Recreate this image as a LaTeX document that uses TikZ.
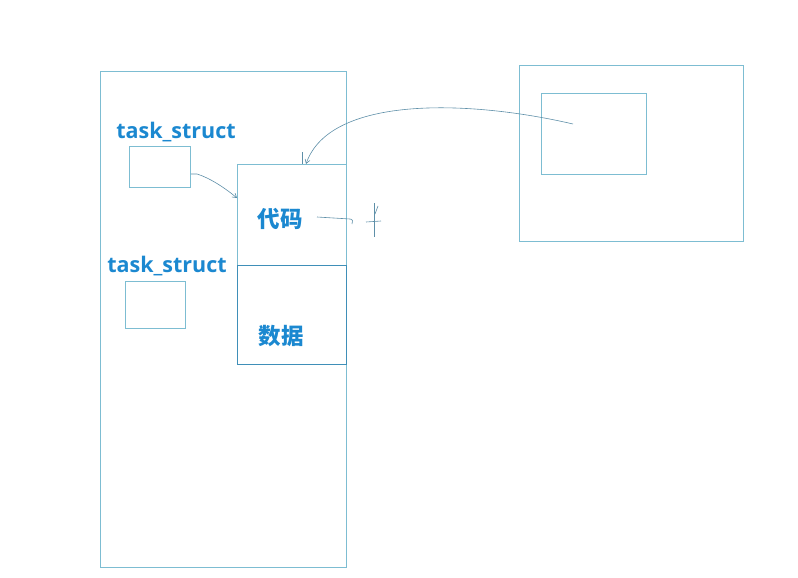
\documentclass[tikz,border=0pt]{standalone}
\usepackage{fontspec}
\setmainfont{Open Sans}
\newfontfamily\cjk{Noto Sans CJK SC}
\usetikzlibrary{arrows.meta}
\definecolor{boxc}{HTML}{7DBDD2}
\definecolor{boxd}{HTML}{3F8FB8}
\definecolor{txtc}{HTML}{1B88D0}
\definecolor{pen}{HTML}{5E8FA8}
\tikzset{
  box/.style={draw=boxc, line width=0.9pt},
  dbox/.style={draw=boxd, line width=1.1pt},
  lbl/.style={text=txtc, font=\bfseries\fontsize{21.5}{21.5}\selectfont, inner sep=0pt},
  clbl/.style={text=txtc, font=\cjk\bfseries\fontsize{22.5}{22.5}\selectfont, inner sep=0pt},
  penline/.style={draw=pen, line width=0.6pt},
  pentip/.style={-{Straight Barb[length=4pt,width=5pt]}}
}
\begin{document}
\begin{tikzpicture}[x=1pt,y=-1pt]
\useasboundingbox (0,0) rectangle (798,578);
% outer process area
\draw[box] (100,71) rectangle (346,567);
% right area
\draw[box] (519,65) rectangle (743,241);
\node[box, minimum width=105pt, minimum height=81pt, anchor=north west, inner sep=0pt] (inner) at (541,93) {};
% code and data
\node[box, minimum width=109pt, minimum height=101pt, anchor=north west, inner sep=0pt] (code) at (237,164) {};
\node[dbox, minimum width=109pt, minimum height=99pt, anchor=north west, inner sep=0pt] (data) at (237,265) {};
\node[clbl] (codet) at (280,219) {代码};
\node[clbl] (datat) at (281,336) {数据};
% task structs
\node[lbl] (t1) at (176,132) {task\_struct};
\node[box, minimum width=61pt, minimum height=41pt, anchor=north west, inner sep=0pt] (s1) at (129,146) {};
\node[lbl] (t2) at (167,266) {task\_struct};
\node[box, minimum width=60pt, minimum height=47pt, anchor=north west, inner sep=0pt] (s2) at (125,281) {};
% connectors
\coordinate (c1) at (237,198);
\draw[penline, pentip] ([yshift=-7pt]s1.east) -- (197,174) .. controls (210,178) and (225,188) .. (c1);
\coordinate (src) at (573,124);
\coordinate (dst) at (306,164);
\draw[penline, pentip] (src) .. controls (470,100) and (330,95) .. (dst);
\draw[pen, line width=0.6pt] (302,152) -- (302,164);
\coordinate (h1) at (317,217);
\coordinate (h2) at (350,219);
\draw[penline] (h1) -- (h2) .. controls (353,219) and (353,222) .. (352,224);
% handwritten mark
\draw[penline] (374,203) -- (374,237);
\draw[penline] (366,222) -- (381,221);
\draw[penline] (375,214) -- (378,206);
\end{tikzpicture}
\end{document}
